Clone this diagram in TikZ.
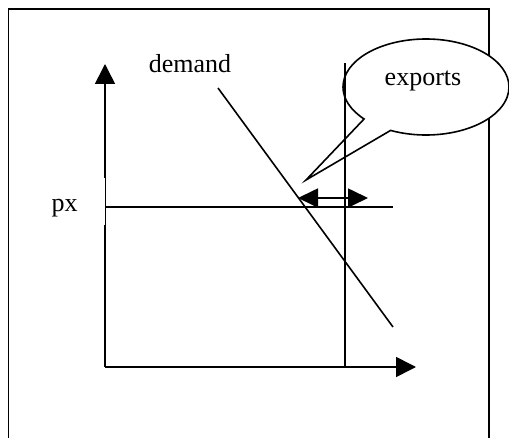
\documentclass[tikz,border=0pt]{standalone}
\usepackage{fontspec}
\setmainfont{Liberation Serif}
\usetikzlibrary{arrows.meta,shapes.callouts}
\tikzset{
  ln/.style={line width=0.8pt, black},
  axisarrow/.style={ln, -{Triangle[length=10pt,width=10pt]}},
  dblarrow/.style={ln, {Triangle[length=10pt,width=9.5pt]}-{Triangle[length=10pt,width=9.5pt]}},
  lbl/.style={font=\fontsize{13pt}{15pt}\selectfont, inner sep=0pt, anchor=base},
}
\begin{document}
\begin{tikzpicture}[x=0.5pt,y=-0.5pt]
\useasboundingbox (0,0) rectangle (509,438);
% frame
\coordinate (F1) at (8.5,440);
\coordinate (F2) at (8.5,9);
\coordinate (F3) at (489,9);
\coordinate (F4) at (489,440);
\draw[ln] (F1) -- (F2) -- (F3) -- (F4);
% key points
\coordinate (O) at (105,367);
\coordinate (Ytop) at (105,64);
\coordinate (Xend) at (416,367);
\coordinate (P1) at (105,207);
\coordinate (P2) at (393,207);
\coordinate (S1) at (345,63);
\coordinate (S2) at (345,367);
\coordinate (D1) at (218,88);
\coordinate (D2) at (393,327);
\coordinate (E1) at (298,198);
\coordinate (E2) at (368,198);
\coordinate (tip) at (306,180);
% axes
\draw[axisarrow] (O) -- (Ytop);
\draw[axisarrow] (O) -- (Xend);
% callout
\node[ellipse callout, draw, ln, fill=white, minimum width=83pt, minimum height=48pt,
      inner sep=0pt, callout absolute pointer={(tip)}, callout pointer arc=23] (bubble) at (426,87) {};
\node[lbl] (exports) at (423,86) {exports};
% labels
\node[lbl] (demand) at (190,73) {demand};
\node[lbl, fill=white, inner xsep=13.7pt, inner ysep=0pt, text height=17pt, text depth=6.5pt] (px) at (64.5,212) {px};
% lines
\draw[ln] (P1) -- (P2);
\draw[ln] (S1) -- (S2);
\draw[ln] (D1) -- (D2);
\draw[dblarrow] (E1) -- (E2);
\end{tikzpicture}
\end{document}
